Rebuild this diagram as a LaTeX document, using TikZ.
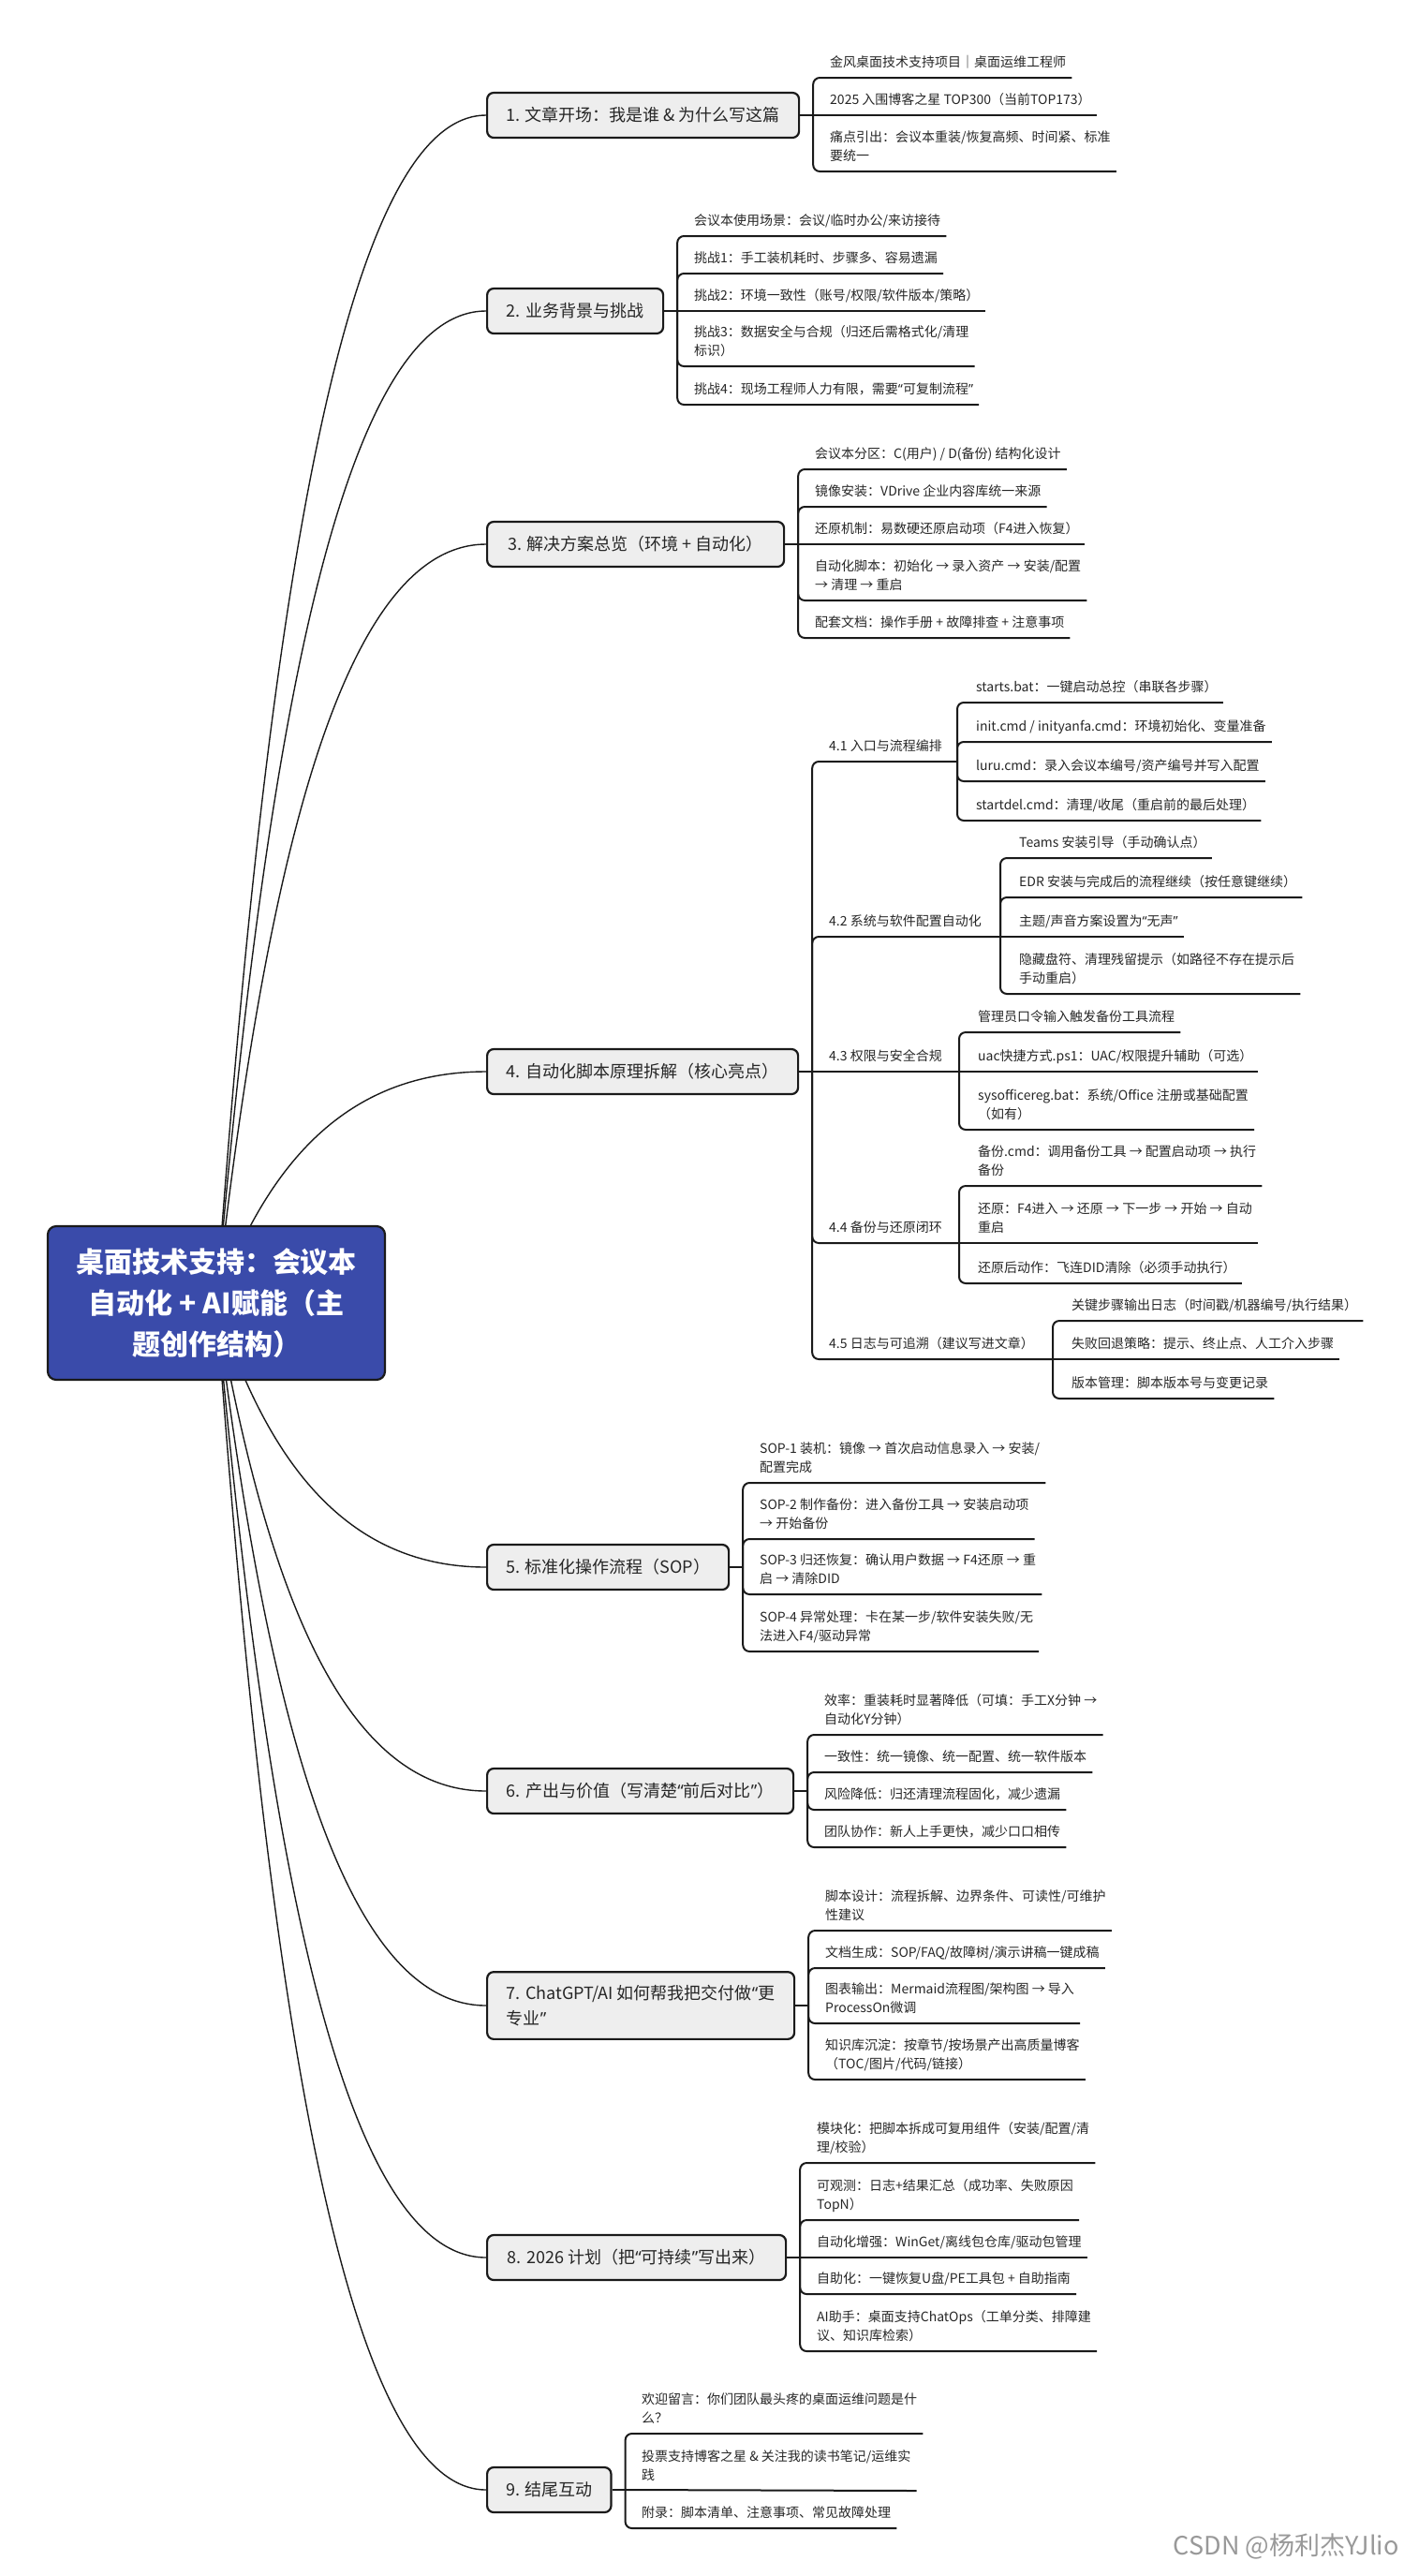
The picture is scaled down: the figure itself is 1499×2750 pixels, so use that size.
\documentclass[tikz,border=0pt]{standalone}
\usepackage{fontspec}
\setmainfont{Noto Sans CJK SC}
\newfontfamily\quotefont{Noto Sans}
\usetikzlibrary{calc,backgrounds}
\definecolor{rootblue}{RGB}{58,75,170}
\definecolor{topicgray}{RGB}{238,238,238}
\definecolor{inkline}{RGB}{26,26,26}
\def\leaffont{\fontsize{14}{20}\selectfont}
\def\topicfont{\fontsize{18}{27}\selectfont}
\def\rootfont{\fontsize{30}{44}\selectfont\bfseries}
\def\oq{{\quotefont “}}
\def\cq{{\quotefont ”}}
\def\rootlink(#1){\draw[trunkline] (root.center) .. controls ($(root.center)!0.55!(root.center |- #1.west)+(50,0)$) and ($(root.center |- #1.west)!0.45!(#1.west)$) .. (#1.west);}
\def\twig(#1)(#2){\draw[branchline] (#1) |- (#2.south east);}
\tikzset{
	rootbox/.style={draw=inkline, line width=2.2pt, fill=rootblue, rounded corners=9pt, text=white, font=\rootfont, minimum width=360pt, minimum height=164pt, align=center},
	topic/.style={draw=inkline, line width=2.2pt, fill=topicgray, rounded corners=7pt, font=\topicfont, text=black!85, inner xsep=20pt, inner ysep=14pt, minimum height=48pt, anchor=west, align=left},
	leaf/.style={font=\leaffont, text=black!85, inner xsep=6pt, inner ysep=11pt, text depth=0pt, anchor=south west, align=left},
	branchline/.style={line width=2pt, draw=inkline, rounded corners=7pt},
	trunkline/.style={line width=1.4pt, draw=inkline},
	watermark/.style={font=\fontsize{27}{30}\selectfont, text=black!40, anchor=east}
}

\begin{document}
\begin{tikzpicture}[x=1pt, y=-1pt]
		%%%%% START %%%%%
		\useasboundingbox (0,0) rectangle (1499,2750);
		
		\node[rootbox] (root) at (231, 1391) {桌面技术支持：会议本\\自动化 + AI赋能（主\\题创作结构）};
		
		\node[topic, minimum width=333] (s1) at (519, 123) {1. 文章开场：我是谁 \& 为什么写这篇};
		\node[topic, minimum width=188] (s2) at (519, 332) {2. 业务背景与挑战};
		\node[topic, minimum width=317] (s3) at (519, 581) {3. 解决方案总览（环境 + 自动化）};
		\node[topic, minimum width=332] (s4) at (519, 1144) {4. 自动化脚本原理拆解（核心亮点）};
		\node[topic, minimum width=258] (s5) at (519, 1673) {5. 标准化操作流程（SOP）};
		\node[topic, minimum width=327] (s6) at (519, 1912) {6. 产出与价值（写清楚\oq 前后对比\cq）};
		\node[topic, minimum width=328] (s7) at (519, 2141) {7. ChatGPT/AI 如何帮我把交付做\oq 更\\专业\cq};
		\node[topic, minimum width=319] (s8) at (519, 2410) {8. 2026 计划（把\oq 可持续\cq 写出来）};
		\node[topic, minimum width=132] (s9) at (519, 2658) {9. 结尾互动};
		
		\begin{scope}[on background layer]
			\rootlink(s1) \rootlink(s2) \rootlink(s3)
			\rootlink(s4) \rootlink(s5) \rootlink(s6)
			\rootlink(s7) \rootlink(s8) \rootlink(s9)
		\end{scope}
		
		% 1
		\node[leaf] (s1a) at (880, 83) {金风桌面技术支持项目｜桌面运维工程师};
		\node[leaf] (s1b) at (880, 123) {2025 入围博客之星 TOP300（当前TOP173）};
		\node[leaf] (s1c) at (880, 183) {痛点引出：会议本重装/恢复高频、时间紧、标准\\要统一};
		\coordinate (s1j) at ($(s1.east)+(14,0)$);
		\draw[branchline] (s1.east) -- (s1j);
		\twig(s1j)(s1a);
		\draw[branchline] (s1j) -- (s1b.south east);
		\twig(s1j)(s1c);
		
		% 2
		\node[leaf] (s2a) at (735, 252) {会议本使用场景：会议/临时办公/来访接待};
		\node[leaf] (s2b) at (735, 292) {挑战1：手工装机耗时、步骤多、容易遗漏};
		\node[leaf] (s2c) at (735, 332) {挑战2：环境一致性（账号/权限/软件版本/策略）};
		\node[leaf] (s2d) at (735, 391) {挑战3：数据安全与合规（归还后需格式化/清理\\标识）};
		\node[leaf] (s2e) at (735, 432) {挑战4：现场工程师人力有限，需要\oq 可复制流程\cq};
		\coordinate (s2j) at ($(s2.east)+(14,0)$);
		\draw[branchline] (s2.east) -- (s2j);
		\twig(s2j)(s2a);
		\twig(s2j)(s2b);
		\draw[branchline] (s2j) -- (s2c.south east);
		\twig(s2j)(s2d);
		\twig(s2j)(s2e);
		
		% 3
		\node[leaf] (s3a) at (864, 501) {会议本分区：C(用户) / D(备份) 结构化设计};
		\node[leaf] (s3b) at (864, 541) {镜像安装：VDrive 企业内容库统一来源};
		\node[leaf] (s3c) at (864, 581) {还原机制：易数硬还原启动项（F4进入恢复）};
		\node[leaf] (s3d) at (864, 641) {自动化脚本：初始化 → 录入资产 → 安装/配置\\→ 清理 → 重启};
		\node[leaf] (s3e) at (864, 681) {配套文档：操作手册 + 故障排查 + 注意事项};
		\coordinate (s3j) at ($(s3.east)+(14,0)$);
		\draw[branchline] (s3.east) -- (s3j);
		\twig(s3j)(s3a);
		\twig(s3j)(s3b);
		\draw[branchline] (s3j) -- (s3c.south east);
		\twig(s3j)(s3d);
		\twig(s3j)(s3e);
		
		% 4
		\node[leaf] (k1) at (879, 813) {4.1 入口与流程编排};
		\node[leaf] (k2) at (879, 1000) {4.2 系统与软件配置自动化};
		\node[leaf] (k3) at (879, 1144) {4.3 权限与安全合规};
		\node[leaf] (k4) at (879, 1327) {4.4 备份与还原闭环};
		\node[leaf] (k5) at (879, 1451) {4.5 日志与可追溯（建议写进文章）};
		\coordinate (s4j) at ($(s4.east)+(14,0)$);
		\coordinate (k1j) at (1022, 813);
		\coordinate (k2j) at (1068, 1000);
		\coordinate (k3j) at (1024, 1144);
		\coordinate (k4j) at (1024, 1327);
		\coordinate (k5j) at (1124, 1451);
		\draw[branchline] (s4.east) -- (s4j);
		\draw[branchline] (s4j) |- (k1j);
		\draw[branchline] (s4j) |- (k2j);
		\draw[branchline] (s4j) -- (k3j);
		\draw[branchline] (s4j) |- (k4j);
		\draw[branchline] (s4j) |- (k5j);
		
		\node[leaf] (k1a) at (1036, 750) {starts.bat：一键启动总控（串联各步骤）};
		\node[leaf] (k1b) at (1036, 792) {init.cmd / inityanfa.cmd：环境初始化、变量准备};
		\node[leaf] (k1c) at (1036, 834) {luru.cmd：录入会议本编号/资产编号并写入配置};
		\node[leaf] (k1d) at (1036, 876) {startdel.cmd：清理/收尾（重启前的最后处理）};
		\twig(k1j)(k1a); \twig(k1j)(k1b); \twig(k1j)(k1c); \twig(k1j)(k1d);
		
		\node[leaf] (k2a) at (1082, 916) {Teams 安装引导（手动确认点）};
		\node[leaf] (k2b) at (1082, 958) {EDR 安装与完成后的流程继续（按任意键继续）};
		\node[leaf] (k2c) at (1082, 1000) {主题/声音方案设置为\oq 无声\cq};
		\node[leaf] (k2d) at (1082, 1061) {隐藏盘符、清理残留提示（如路径不存在提示后\\手动重启）};
		\twig(k2j)(k2a); \twig(k2j)(k2b); \twig(k2j)(k2d);
		\draw[branchline] (k2j) -- (k2c.south east);
		
		\node[leaf] (k3a) at (1038, 1102) {管理员口令输入触发备份工具流程};
		\node[leaf] (k3b) at (1038, 1144) {uac快捷方式.ps1：UAC/权限提升辅助（可选）};
		\node[leaf] (k3c) at (1038, 1206) {sysofficereg.bat：系统/Office 注册或基础配置\\（如有）};
		\twig(k3j)(k3a); \twig(k3j)(k3c);
		\draw[branchline] (k3j) -- (k3b.south east);
		
		\node[leaf] (k4a) at (1038, 1266) {备份.cmd：调用备份工具 → 配置启动项 → 执行\\备份};
		\node[leaf] (k4b) at (1038, 1327) {还原：F4进入 → 还原 → 下一步 → 开始 → 自动\\重启};
		\node[leaf] (k4c) at (1038, 1370) {还原后动作：飞连DID清除（必须手动执行）};
		\twig(k4j)(k4a); \twig(k4j)(k4c);
		\draw[branchline] (k4j) -- (k4b.south east);
		
		\node[leaf] (k5a) at (1138, 1410) {关键步骤输出日志（时间戳/机器编号/执行结果）};
		\node[leaf] (k5b) at (1138, 1451) {失败回退策略：提示、终止点、人工介入步骤};
		\node[leaf] (k5c) at (1138, 1493) {版本管理：脚本版本号与变更记录};
		\twig(k5j)(k5a); \twig(k5j)(k5c);
		\draw[branchline] (k5j) -- (k5b.south east);
		
		% 5
		\node[leaf] (s5a) at (805, 1583) {SOP-1 装机：镜像 → 首次启动信息录入 → 安装/\\配置完成};
		\node[leaf] (s5b) at (805, 1643) {SOP-2 制作备份：进入备份工具 → 安装启动项\\→ 开始备份};
		\node[leaf] (s5c) at (805, 1702) {SOP-3 归还恢复：确认用户数据 → F4还原 → 重\\启 → 清除DID};
		\node[leaf] (s5d) at (805, 1763) {SOP-4 异常处理：卡在某一步/软件安装失败/无\\法进入F4/驱动异常};
		\coordinate (s5j) at ($(s5.east)+(14,0)$);
		\draw[branchline] (s5.east) -- (s5j);
		\twig(s5j)(s5a); \twig(s5j)(s5b); \twig(s5j)(s5c); \twig(s5j)(s5d);
		
		% 6
		\node[leaf] (s6a) at (874, 1852) {效率：重装耗时显著降低（可填：手工X分钟 →\\自动化Y分钟）};
		\node[leaf] (s6b) at (874, 1892) {一致性：统一镜像、统一配置、统一软件版本};
		\node[leaf] (s6c) at (874, 1932) {风险降低：归还清理流程固化，减少遗漏};
		\node[leaf] (s6d) at (874, 1972) {团队协作：新人上手更快，减少口口相传};
		\coordinate (s6j) at ($(s6.east)+(14,0)$);
		\draw[branchline] (s6.east) -- (s6j);
		\twig(s6j)(s6a); \twig(s6j)(s6b); \twig(s6j)(s6c); \twig(s6j)(s6d);
		
		% 7
		\node[leaf] (s7a) at (875, 2061) {脚本设计：流程拆解、边界条件、可读性/可维护\\性建议};
		\node[leaf] (s7b) at (875, 2101) {文档生成：SOP/FAQ/故障树/演示讲稿一键成稿};
		\node[leaf] (s7c) at (875, 2160) {图表输出：Mermaid流程图/架构图 → 导入\\ProcessOn微调};
		\node[leaf] (s7d) at (875, 2220) {知识库沉淀：按章节/按场景产出高质量博客\\（TOC/图片/代码/链接）};
		\coordinate (s7j) at ($(s7.east)+(14,0)$);
		\draw[branchline] (s7.east) -- (s7j);
		\twig(s7j)(s7a); \twig(s7j)(s7b); \twig(s7j)(s7c); \twig(s7j)(s7d);
		
		% 8
		\node[leaf] (s8a) at (866, 2309) {模块化：把脚本拆成可复用组件（安装/配置/清\\理/校验）};
		\node[leaf] (s8b) at (866, 2370) {可观测：日志+结果汇总（成功率、失败原因\\TopN）};
		\node[leaf] (s8c) at (866, 2410) {自动化增强：WinGet/离线包仓库/驱动包管理};
		\node[leaf] (s8d) at (866, 2449) {自助化：一键恢复U盘/PE工具包 + 自助指南};
		\node[leaf] (s8e) at (866, 2510) {AI助手：桌面支持ChatOps（工单分类、排障建\\议、知识库检索）};
		\coordinate (s8j) at ($(s8.east)+(14,0)$);
		\draw[branchline] (s8.east) -- (s8j);
		\twig(s8j)(s8a); \twig(s8j)(s8b); \twig(s8j)(s8d); \twig(s8j)(s8e);
		\draw[branchline] (s8j) -- (s8c.south east);
		
		% 9
		\node[leaf] (s9a) at (679, 2598) {欢迎留言：你们团队最头疼的桌面运维问题是什\\么？};
		\node[leaf] (s9b) at (679, 2659) {投票支持博客之星 \& 关注我的读书笔记/运维实\\践};
		\node[leaf] (s9c) at (679, 2699) {附录：脚本清单、注意事项、常见故障处理};
		\coordinate (s9j) at ($(s9.east)+(14,0)$);
		\draw[branchline] (s9.east) -- (s9j);
		\twig(s9j)(s9a); \twig(s9j)(s9c);
		\draw[branchline] (s9j) -- (s9b.south east);
		
		\node[watermark] (csdn) at (1497, 2718) {CSDN @杨利杰YJlio};
		
		%%%%% END %%%%%
\end{tikzpicture}
\end{document}
